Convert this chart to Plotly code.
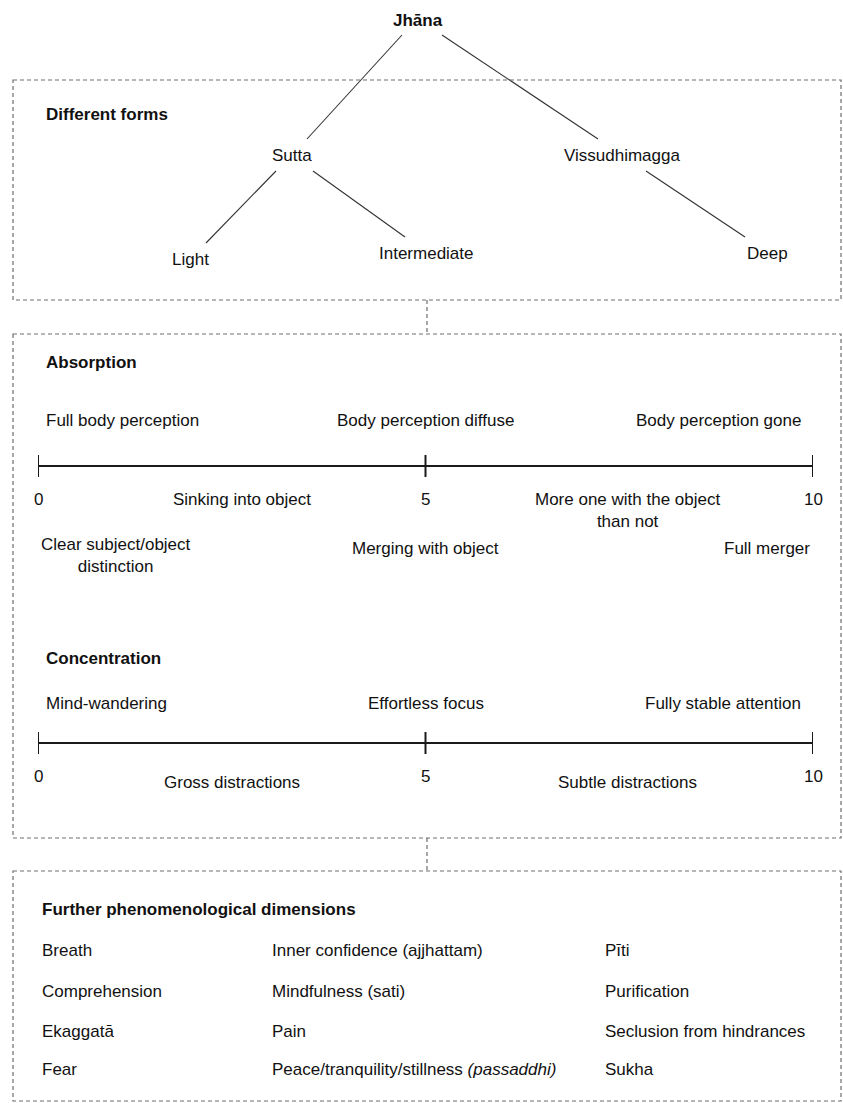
import plotly.graph_objects as go

# ---------------- data ----------------
tree_nodes = ["Jhāna", "Sutta", "Vissudhimagga", "Light", "Intermediate", "Deep"]
tree_parents = [None, "Jhāna", "Jhāna", "Sutta", "Sutta", "Vissudhimagga"]

section_titles = ["Different forms", "Absorption", "Concentration", "Further phenomenological dimensions"]

scale_ticks = [0, 5, 10]
scale_tick_labels = ["0", "5", "10"]

absorption_above = ["Full body perception", "Body perception diffuse", "Body perception gone"]
absorption_above_pos = [0, 5, 10]
absorption_mid = ["Sinking into object", "More one with the object<br>than not"]
absorption_mid_pos = [2.63, 7.6]
absorption_below = ["Clear subject/object<br>distinction", "Merging with object", "Full merger"]
absorption_below_pos = [1.0, 5.0, 9.4]

concentration_above = ["Mind-wandering", "Effortless focus", "Fully stable attention"]
concentration_above_pos = [0, 5, 10]
concentration_mid = ["Gross distractions", "Subtle distractions"]
concentration_mid_pos = [2.5, 7.6]

dimensions_col1 = ["Breath", "Comprehension", "Ekaggatā", "Fear"]
dimensions_col2 = ["Inner confidence (ajjhattam)", "Mindfulness (sati)", "Pain",
                   "Peace/tranquility/stillness <i>(passaddhi)</i>"]
dimensions_col3 = ["Pīti", "Purification", "Seclusion from hindrances", "Sukha"]

# ---------------- layout constants (pixels) ----------------
W, H = 843, 1103
FONT = "Liberation Sans, Arial, Helvetica, sans-serif"
FS = 17
TXT = "#111111"
BOX_COLOR = "#6e6e6e"
BOX_DASH = "4px,3px"

node_pos = {"Jhāna": (418, 20), "Sutta": (292, 155), "Vissudhimagga": (622, 155),
            "Light": (190, 259), "Intermediate": (426, 253), "Deep": (767, 253)}
edge_ends = {"Sutta": ((402, 35), (307, 139)),
             "Vissudhimagga": ((442, 35), (598, 139)),
             "Light": ((276, 171), (206, 243)),
             "Intermediate": ((313, 171), (405, 237)),
             "Deep": ((646, 171), (745, 237))}

boxes = [(13, 80, 841, 300), (13, 334, 841, 838), (13, 871, 841, 1101)]
connector_x = 427
connectors = [(300, 334), (838, 871)]
title_pos = [(44, 114), (44, 362), (44, 658), (40, 909)]

scale_px = (38, 813)
abs_axis_y, conc_axis_y = 466, 743
tick_half = 11
end_label_shift = {"left": 6, "right": -10, "center": 0}
abs_rows = {"above": 420, "num": 499, "below": 548}
conc_rows = {"above": 703, "num": 776, "mid": 782}
dim_cols = [40, 270, 603]
dim_rows = [950, 991, 1031, 1069]

fig = go.Figure()

# tree edges
ex, ey = [], []
for n, p in zip(tree_nodes, tree_parents):
    if p is None:
        continue
    (x0, y0), (x1, y1) = edge_ends[n]
    ex += [x0, x1, None]
    ey += [y0, y1, None]
fig.add_trace(go.Scatter(x=ex, y=ey, mode="lines", line=dict(color="#333333", width=1.1),
                         hoverinfo="skip", showlegend=False))

ann = []
for n in tree_nodes:
    x, y = node_pos[n]
    ann.append(dict(x=x, y=y, xref="x", yref="y", text=f"<b>{n}</b>" if n == "Jhāna" else n,
                    showarrow=False, xanchor="center", yanchor="middle"))

for t, (x, y) in zip(section_titles, title_pos):
    ann.append(dict(x=x, y=y, xref="x", yref="y", text=f"<b>{t}</b>", showarrow=False,
                    xanchor="left", yanchor="middle"))

# scales (drawn on a 0-10 axis)
for axis_y in (abs_axis_y, conc_axis_y):
    fig.add_trace(go.Scatter(x=[scale_ticks[0], scale_ticks[-1]], y=[axis_y, axis_y],
                             xaxis="x2", yaxis="y", mode="lines",
                             line=dict(color="#1a1a1a", width=2), hoverinfo="skip", showlegend=False))
    tx, ty = [], []
    for t in scale_ticks:
        tx += [t, t, None]
        ty += [axis_y - tick_half, axis_y + tick_half, None]
    fig.add_trace(go.Scatter(x=tx, y=ty, xaxis="x2", yaxis="y", mode="lines",
                             line=dict(color="#1a1a1a", width=2), hoverinfo="skip", showlegend=False))


def anchor_for(v):
    return "left" if v == scale_ticks[0] else ("right" if v == scale_ticks[-1] else "center")


def scale_labels(texts, pos, y, end_align=True):
    for t, v in zip(texts, pos):
        xa = anchor_for(v) if end_align else "center"
        ann.append(dict(x=v, y=y, xref="x2", yref="y", text=t, showarrow=False,
                        xanchor=xa, yanchor="middle", align="center", xshift=end_label_shift[xa]))


# absorption
scale_labels(absorption_above, absorption_above_pos, abs_rows["above"])
scale_labels(scale_tick_labels, scale_ticks, abs_rows["num"], end_align=False)
for t, v in zip(absorption_mid, absorption_mid_pos):
    ann.append(dict(x=v, y=abs_rows["num"], xref="x2", yref="y", text=t, showarrow=False,
                    xanchor="center", yanchor="top" if "<br>" in t else "middle", align="center",
                    yshift=11 if "<br>" in t else 0))
for t, v in zip(absorption_below, absorption_below_pos):
    ann.append(dict(x=v, y=abs_rows["below"], xref="x2", yref="y", text=t, showarrow=False,
                    xanchor="center", yanchor="top" if "<br>" in t else "middle", align="center",
                    yshift=15 if "<br>" in t else 0))

# concentration
scale_labels(concentration_above, concentration_above_pos, conc_rows["above"])
scale_labels(scale_tick_labels, scale_ticks, conc_rows["num"], end_align=False)
scale_labels(concentration_mid, concentration_mid_pos, conc_rows["mid"], end_align=False)

# dimensions grid
for col_x, col in zip(dim_cols, [dimensions_col1, dimensions_col2, dimensions_col3]):
    for y, t in zip(dim_rows, col):
        ann.append(dict(x=col_x, y=y, xref="x", yref="y", text=t, showarrow=False,
                        xanchor="left", yanchor="middle"))

shapes = []
for (x0, y0, x1, y1) in boxes:
    shapes.append(dict(type="rect", xref="x", yref="y", x0=x0, y0=y0, x1=x1, y1=y1,
                       line=dict(color=BOX_COLOR, width=1.2, dash=BOX_DASH), fillcolor="rgba(0,0,0,0)"))
for (y0, y1) in connectors:
    shapes.append(dict(type="line", xref="x", yref="y", x0=connector_x, x1=connector_x, y0=y0, y1=y1,
                       line=dict(color=BOX_COLOR, width=1.2, dash=BOX_DASH)))

fig.update_layout(
    width=W, height=H, margin=dict(l=0, r=0, t=0, b=0),
    paper_bgcolor="white", plot_bgcolor="rgba(0,0,0,0)",
    font=dict(family=FONT, size=FS, color=TXT),
    xaxis=dict(range=[0, W], visible=False, domain=[0, 1], fixedrange=True),
    xaxis2=dict(range=[scale_ticks[0], scale_ticks[-1]], visible=False,
                domain=[scale_px[0] / W, scale_px[1] / W], anchor="y", fixedrange=True),
    yaxis=dict(range=[H, 0], visible=False, fixedrange=True),
    annotations=ann, shapes=shapes, showlegend=False,
)

fig.write_html("out.html", config={"displayModeBar": False})

# remove default page margin so the figure sits at (0,0)
with open("out.html", encoding="utf-8") as f:
    html = f.read()
html = html.replace("<head>", "<head><style>body{margin:0;padding:0;}</style>", 1)
with open("out.html", "w", encoding="utf-8") as f:
    f.write(html)
